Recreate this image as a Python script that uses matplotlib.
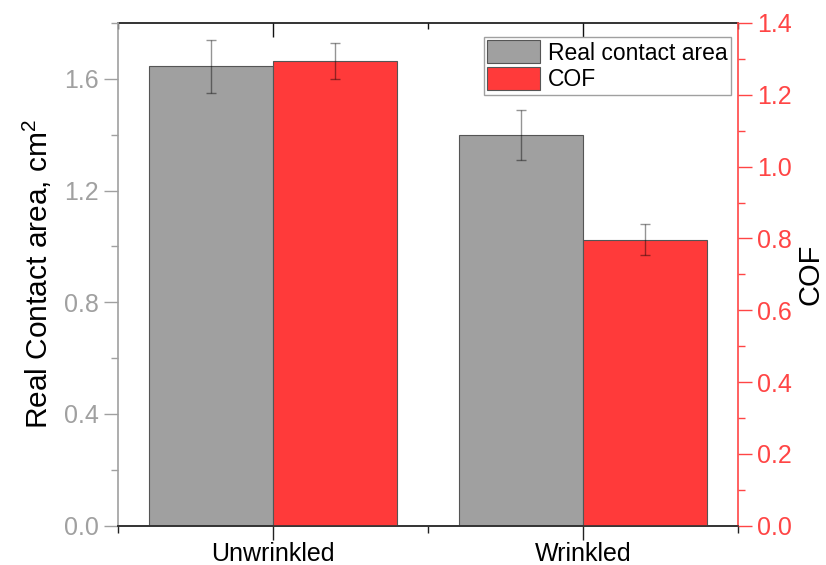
import matplotlib
matplotlib.use("Agg")
import matplotlib.pyplot as plt
import numpy as np
from matplotlib.ticker import MultipleLocator, FixedLocator

plt.rcParams['font.family'] = ['Liberation Sans', 'DejaVu Sans']
plt.rcParams['mathtext.fontset'] = 'custom'
plt.rcParams['mathtext.rm'] = 'Liberation Sans'
plt.rcParams['mathtext.default'] = 'regular'

categories = ["Unwrinkled", "Wrinkled"]
area_values = [1.645, 1.40]
area_errors = [0.094, 0.09]
cof_values = [1.295, 0.797]
cof_errors = [0.05, 0.043]

GRAY = '#a0a0a0'
RED = '#ff3a3a'
AXRED = '#ff4545'
EDGE = '#555555'
ERRC = (0, 0, 0, 0.42)

fig = plt.figure(figsize=(8.26, 5.65), dpi=100)
ax = fig.add_axes([118/826, 1-525.7/565, 620/826, 502.7/565])
ax2 = ax.twinx()

x = np.arange(len(categories))
w = 0.4
b1 = ax.bar(x - w/2, area_values, w, color=GRAY, edgecolor=EDGE, linewidth=0.8,
            label='Real contact area', zorder=2)
ax.errorbar(x - w/2, area_values, yerr=area_errors, fmt='none', ecolor=ERRC,
            elinewidth=1, capsize=3.6, capthick=1, zorder=3)
b2 = ax2.bar(x + w/2, cof_values, w, color=RED, edgecolor=EDGE, linewidth=0.8,
             label='COF', zorder=2)
ax2.errorbar(x + w/2, cof_values, yerr=cof_errors, fmt='none', ecolor=ERRC,
             elinewidth=1, capsize=3.6, capthick=1, zorder=3)

ax.set_xlim(-0.5, 1.5)
ax.set_ylim(0, 1.8)
ax2.set_ylim(0, 1.4)

ax.set_xticks(x)
ax.set_xticklabels(categories, fontsize=18)
ax.xaxis.set_minor_locator(FixedLocator([-0.5, 0.5, 1.5]))
ax.tick_params(axis='x', which='major', direction='out', length=10, width=1,
               pad=1.5, colors='#222222', labelcolor='black')
ax.tick_params(axis='x', which='minor', direction='out', length=5, width=1,
               colors='#222222')
ax.tick_params(axis='x', which='both', top=False)
secx = ax.secondary_xaxis('top')
secx.set_xticks(x)
secx.set_xticklabels([])
secx.xaxis.set_minor_locator(FixedLocator([-0.5, 0.5, 1.5]))
secx.tick_params(axis='x', which='major', direction='in', length=10, width=1, colors='#111111')
secx.tick_params(axis='x', which='minor', direction='in', length=4, width=1, colors='#111111')
secx.spines['top'].set_color('#111111')
secx.spines['top'].set_linewidth(1.2)

ax.yaxis.set_minor_locator(MultipleLocator(0.2))
ax.tick_params(axis='y', which='major', direction='out', length=10, width=1,
               colors=GRAY, labelsize=18, pad=4)
ax.tick_params(axis='y', which='minor', direction='out', length=5, width=1, colors=GRAY)
ax.set_yticks(np.arange(0, 1.61, 0.4))
ax.set_yticklabels([f"{v:.1f}" for v in np.arange(0, 1.61, 0.4)])

ax2.yaxis.set_minor_locator(MultipleLocator(0.1))
ax2.tick_params(axis='y', which='major', direction='out', length=10, width=1,
                colors=AXRED, labelsize=18, pad=4)
ax2.tick_params(axis='y', which='minor', direction='out', length=5, width=1, colors=AXRED)
ax2.set_yticks(np.arange(0, 1.41, 0.2))
ax2.set_yticklabels([f"{v:.1f}" for v in np.arange(0, 1.41, 0.2)])

ax.spines['left'].set_color(GRAY)
ax.spines['left'].set_linewidth(1.2)
ax.spines['right'].set_visible(False)
ax.spines['top'].set_visible(False)
ax.spines['bottom'].set_color('#333333')
ax.spines['bottom'].set_linewidth(1.2)
ax2.spines['left'].set_visible(False)
ax2.spines['top'].set_visible(False)
ax2.spines['bottom'].set_color('#333333')
ax2.spines['bottom'].set_linewidth(1.2)
ax2.spines['right'].set_color(AXRED)
ax2.spines['right'].set_linewidth(1.2)

ax.set_ylabel(r"Real Contact area, cm$^2$", fontsize=21.5, color='black', labelpad=7)
ax2.set_ylabel("COF", fontsize=21, color='black', labelpad=3)

leg = ax2.legend(handles=[b1, b2], loc='upper right',
                 bbox_to_anchor=((731-118)/620, (525.7-37)/502.7),
                 borderaxespad=0, fontsize=16.5, frameon=True, fancybox=False,
                 framealpha=1, edgecolor=GRAY, handlelength=2.3, handleheight=1.15,
                 handletextpad=0.35, labelspacing=0.12, borderpad=0.15)
leg.get_frame().set_linewidth(1)

fig.savefig("out.png", dpi=100)
